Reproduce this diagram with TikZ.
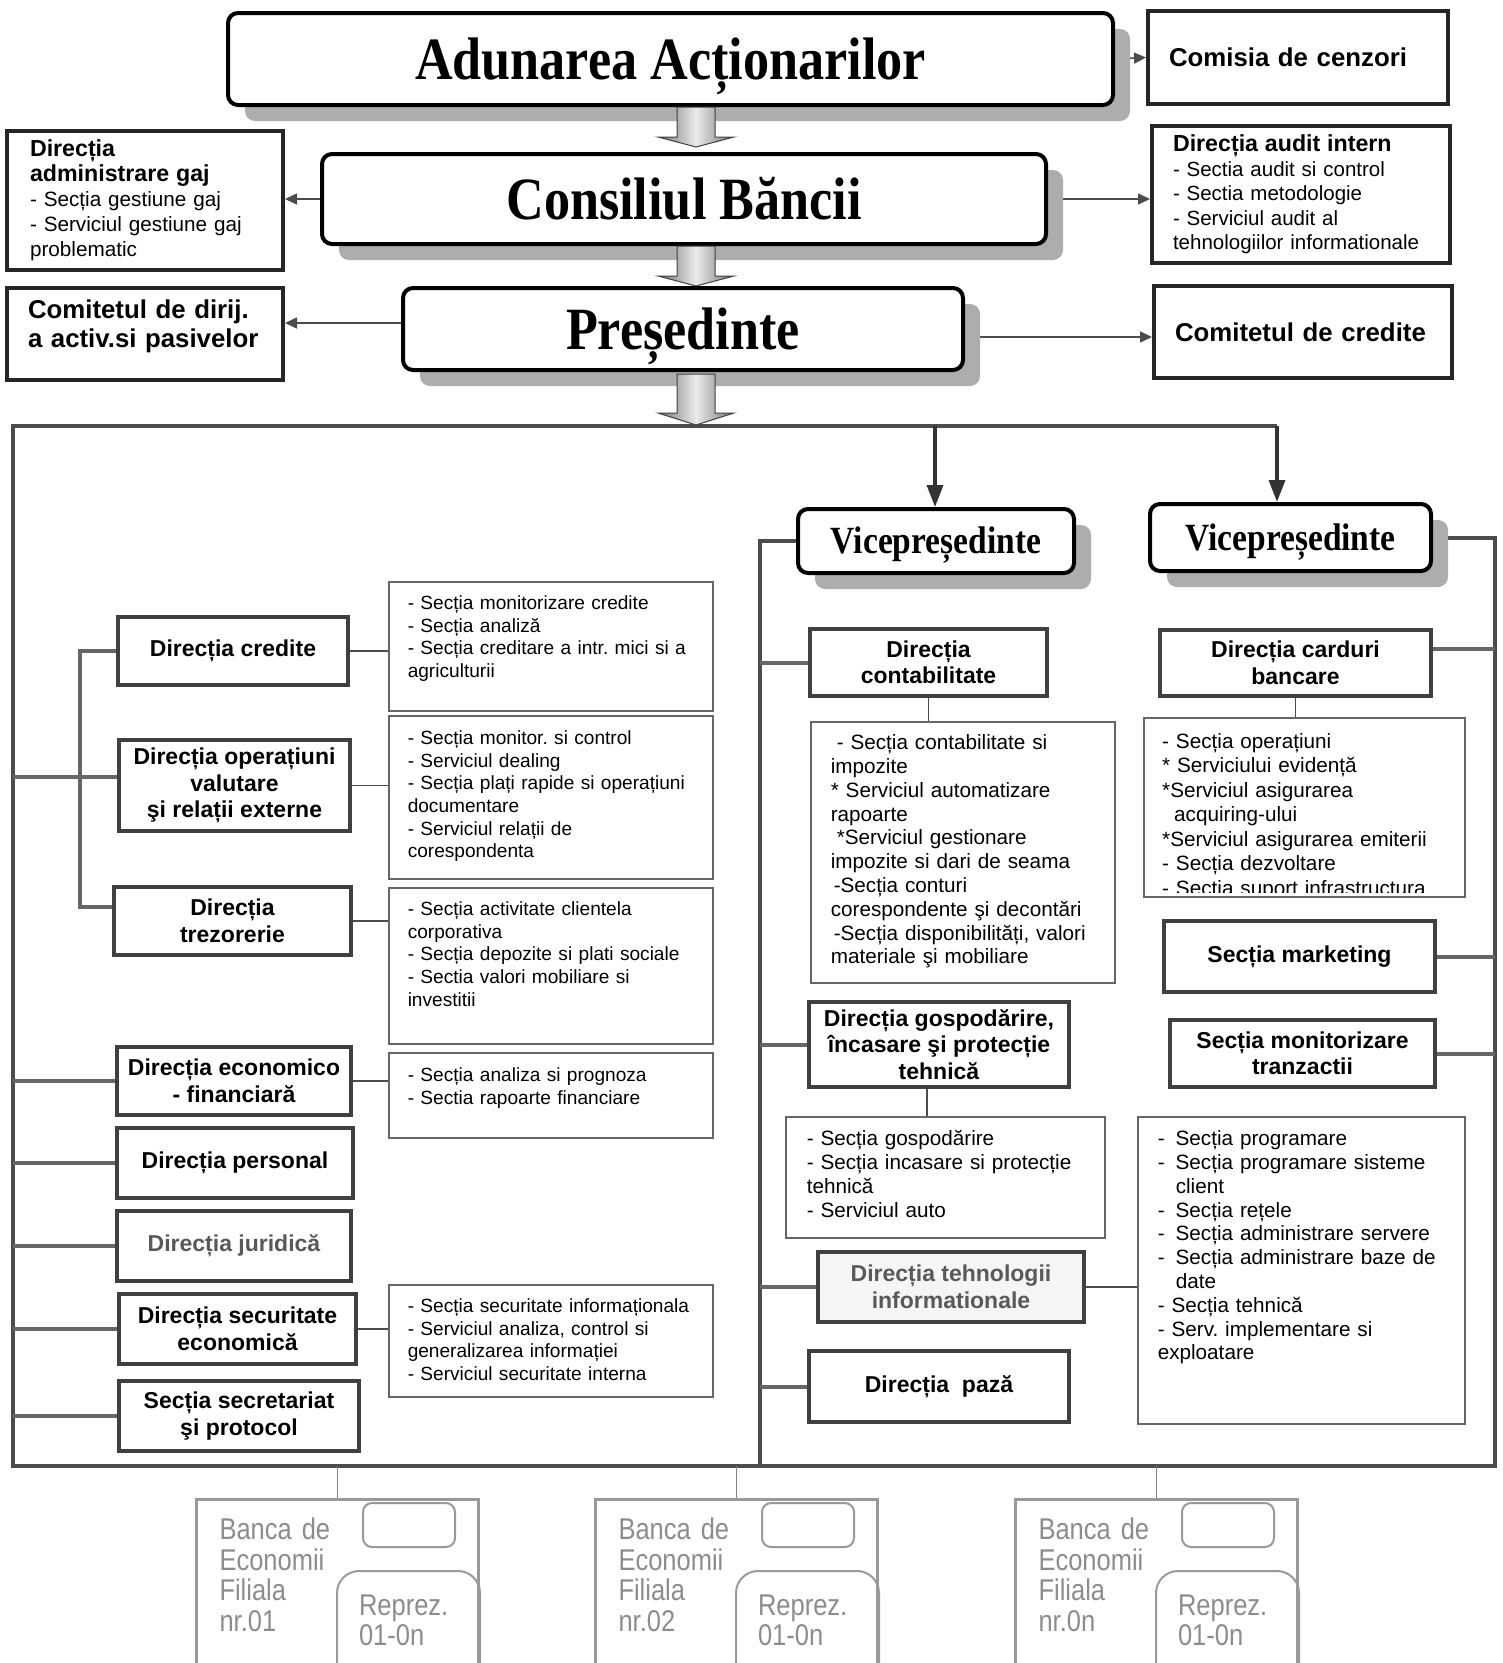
\documentclass[tikz,border=0pt]{standalone}
\usepackage{fontspec}
\setmainfont{Liberation Sans}
\newfontfamily\titlefont{Liberation Serif}[FakeStretch=0.87]
\newfontfamily\narrowfont{Liberation Sans}[FakeStretch=0.85]
\usetikzlibrary{arrows.meta,shadows,backgrounds}
\frenchspacing

\begin{document}
\begin{tikzpicture}[x=1pt,y=-1pt,
	titlebox/.style={rectangle,rounded corners=10pt,draw=black,line width=4pt,fill=white,text height=40pt,text depth=0pt,font=\titlefont\bfseries\fontsize{60}{64}\selectfont,drop shadow={shadow xshift=17pt,shadow yshift=-16pt,fill=black!32,opacity=1}},
	vpbox/.style={titlebox,text height=25pt,font=\titlefont\bfseries\fontsize{38.5}{42}\selectfont},
	sidebox/.style={rectangle,draw=black!85,line width=4pt,fill=white,align=left,inner xsep=21pt,inner ysep=0pt},
	headfont/.style={font=\bfseries\fontsize{25.8}{29.5}\selectfont},
	deptbox/.style={rectangle,draw=black!75,line width=4.5pt,fill=white,align=center,inner sep=0pt,font=\bfseries\fontsize{23}{26.5}\selectfont},
	subbox/.style={rectangle,draw=black!60,line width=1.5pt,fill=white,align=left,anchor=north west,inner ysep=0pt,font=\fontsize{20.7}{23.8}\selectfont},
	subboxl/.style={subbox,inner xsep=19pt,text width=286pt,font=\fontsize{19.1}{22.6}\selectfont},
	blockarr/.style={draw=black!75,line width=1pt,left color=black!55,right color=black!55,middle color=black!8},
	filbox/.style={rectangle,draw=black!40,line width=3pt,anchor=north west,align=left,inner xsep=23pt,inner ysep=0pt,text width=236pt,text height=40pt,text depth=180pt,text=black!45,font=\narrowfont\fontsize{30}{30.5}\selectfont},
	repbox/.style={rectangle,rounded corners=22pt,draw=black!40,line width=2pt,anchor=north west,align=left,inner xsep=22pt,inner ysep=0pt,text width=99pt,text height=44pt,text depth=96pt,text=black!45,font=\narrowfont\fontsize{30}{30.5}\selectfont},
	smallbox/.style={rectangle,rounded corners=9pt,draw=black!40,line width=2pt,anchor=north west,minimum width=92pt,minimum height=44pt},
	frame/.style={draw=black!70,line width=4pt},
	tie/.style={draw=black!60,line width=4pt},
	link/.style={draw=black!70,line width=1.6pt},
	arr/.style={link,-{Triangle[length=12pt,width=11pt]}},
	vparr/.style={draw=black!80,line width=3.5pt,-{Triangle[length=22pt,width=16pt]}}]
	\useasboundingbox (0,0) rectangle (1503,1663);

	\node[titlebox,minimum width=885pt,minimum height=92pt] (adunarea) at (670.5,59) {Adunarea Acționarilor};
	\node[sidebox,headfont,minimum width=300pt,minimum height=93pt,text width=258pt,text depth=0pt] (comisia) at (1298,57.5) {Comisia de cenzori};
	\node[titlebox,minimum width=724pt,minimum height=90pt] (consiliul) at (684,199) {Consiliul Băncii};
	\node[sidebox,minimum width=276pt,minimum height=139pt,text width=230pt,font=\fontsize{20.7}{25}\selectfont] (gaj) at (145,200.5) {\bfseries\fontsize{23.2}{25}\selectfont Direcția\\administrare gaj\\\mdseries\fontsize{20.7}{25}\selectfont - Secția gestiune gaj\\- Serviciul gestiune gaj\\problematic};
	\node[sidebox,minimum width=298pt,minimum height=137pt,text width=256pt,font=\fontsize{20.5}{24.5}\selectfont] (audit) at (1301,194.5) {\bfseries\fontsize{23.2}{24.5}\selectfont Direcția audit intern\\\mdseries\fontsize{20.5}{24.5}\selectfont - Sectia audit si control\\- Sectia metodologie\\- Serviciul audit al\\tehnologiilor informationale};
	\node[titlebox,minimum width=560pt,minimum height=82pt] (presedinte) at (683,329) {Președinte};
	\node[sidebox,headfont,anchor=north west,text width=234pt,text height=30pt,text depth=62pt] (dirij) at (5,286) {Comitetul de dirij.\\a activ.si pasivelor};
	\node[sidebox,headfont,minimum width=298pt,minimum height=92pt,text width=256pt,text depth=0pt] (credcom) at (1303,332) {Comitetul de credite};

	\foreach \ya/\yb/\yc in {107/137/147,246/276/286,374/413/425}
		\path[blockarr] (677,\ya) -- (715,\ya) -- (715,\yb) -- (734,\yb) -- (696,\yc) -- (658,\yb) -- (677,\yb) -- cycle;

	\node[vpbox,minimum width=276pt,minimum height=64pt] (vp1) at (936,541) {Vicepreședinte};
	\node[vpbox,minimum width=281pt,minimum height=67pt] (vp2) at (1290.5,537.5) {Vicepreședinte};

	\coordinate (ftl) at (13,426);
	\coordinate (fbl) at (13,1466);
	\coordinate (fbr) at (1495,1466);
	\coordinate (t1) at (935,426);
	\coordinate (t2) at (1277,426);
	\coordinate (vl) at (760,1466);
	\coordinate (brx) at (80,651);

	\node[deptbox,minimum width=230pt,minimum height=68pt] (credite) at (233,651) {Direcția credite};
	\node[deptbox,minimum width=231pt,minimum height=91pt] (valutare) at (234.5,785.5) {Direcția operațiuni\\valutare\\şi relații externe};
	\node[deptbox,minimum width=237pt,minimum height=68pt] (trezorerie) at (232.5,921) {Direcția\\trezorerie};
	\node[deptbox,minimum width=234pt,minimum height=68pt] (economico) at (234,1081) {Direcția economico\\- financiară};
	\node[deptbox,minimum width=236pt,minimum height=70pt] (personal) at (235,1163) {Direcția personal};
	\node[deptbox,minimum width=234pt,minimum height=70pt,text=black!65] (juridica) at (234,1246) {Direcția juridică};
	\node[deptbox,minimum width=237pt,minimum height=70pt] (securitate) at (237.5,1329) {Direcția securitate\\economică};
	\node[deptbox,minimum width=240pt,minimum height=70pt] (secretariat) at (239,1416) {Secția secretariat\\şi protocol};

	\node[subboxl,text height=28pt,text depth=101pt] (credsub) at (388,581) {- Secția monitorizare credite\\- Secția analiză\\- Secția creditare a intr. mici si a\\agriculturii};
	\node[subboxl,text height=29pt,text depth=134pt] (valsub) at (388,715) {- Secția monitor. si control\\- Serviciul dealing\\- Secția plați rapide si operațiuni\\documentare\\- Serviciul relații de\\corespondenta};
	\node[subboxl,text height=28pt,text depth=128pt] (trezsub) at (388,887) {- Secția activitate clientela\\corporativa\\- Secția depozite si plati sociale\\- Sectia valori mobiliare si\\investitii};
	\node[subboxl,text height=29pt,text depth=56pt] (econsub) at (388,1052) {- Secția analiza si prognoza\\- Sectia rapoarte financiare};
	\node[subboxl,text height=28pt,text depth=84pt] (secsub) at (388,1284) {- Secția securitate informaționala\\- Serviciul analiza, control si\\generalizarea informației\\- Serviciul securitate interna};

	\node[deptbox,minimum width=237pt,minimum height=67pt] (contab) at (928.5,662.5) {Direcția\\contabilitate};
	\node[subbox,inner xsep=20pt,text width=264pt,text height=28pt,text depth=233pt] (contabsub) at (810,721) {\hspace*{6pt}- Secția contabilitate si\\impozite\\{}* Serviciul automatizare\\rapoarte\\\hspace*{6pt}*Serviciul gestionare\\impozite si dari de seama\\\hspace*{3pt}-Secția conturi\\corespondente şi decontări\\\hspace*{3pt}-Secția disponibilități, valori\\materiale şi mobiliare};
	\node[deptbox,minimum width=260pt,minimum height=85pt] (gosp) at (939,1044.5) {Direcția gospodărire,\\încasare şi protecție\\tehnică};
	\node[subbox,inner xsep=21pt,text width=277pt,text height=29pt,text depth=92pt] (gospsub) at (785,1116) {- Secția gospodărire\\- Secția incasare si protecție\\tehnică\\- Serviciul auto};
	\node[deptbox,minimum width=266pt,minimum height=70pt,fill=black!4,text=black!65] (ittech) at (951,1287) {Direcția tehnologii\\informationale};
	\node[deptbox,minimum width=260pt,minimum height=71pt] (paza) at (939,1386.5) {Direcția~~pază};

	\node[deptbox,minimum width=271pt,minimum height=66pt] (carduri) at (1295.5,663) {Direcția carduri\\bancare};
	\node[subbox,minimum width=321pt,minimum height=179pt] (cardsub) at (1143,717) {};
	\begin{scope}
		\clip (cardsub.north west) rectangle ([yshift=5pt]cardsub.south east);
		\node[anchor=base west,align=left,text width=290pt,inner sep=0pt,font=\fontsize{20.7}{24.5}\selectfont] (cardtxt) at (1162,748) {- Secția operațiuni\\{}* Serviciului evidență\\{}*Serviciul asigurarea\\\hspace*{12pt}acquiring-ului\\{}*Serviciul asigurarea emiterii\\- Secția dezvoltare\\- Secția suport infrastructura};
	\end{scope}
	\node[deptbox,minimum width=271pt,minimum height=71pt] (marketing) at (1299.5,956.5) {Secția marketing};
	\node[deptbox,minimum width=265pt,minimum height=67pt] (monit) at (1302.5,1053.5) {Secția monitorizare\\tranzactii};
	\node[subbox,inner xsep=20pt,text width=287pt,text height=29pt,text depth=278pt] (itsub) at (1137,1116) {-\hspace{11pt}Secția programare\\-\hspace{11pt}Secția programare sisteme\\\hspace*{18pt}client\\-\hspace{11pt}Secția rețele\\-\hspace{11pt}Secția administrare servere\\-\hspace{11pt}Secția administrare baze de\\\hspace*{18pt}date\\- Secția tehnică\\- Serv. implementare si\\exploatare};

	\foreach \x/\nr/\n in {195/01/1,594/02/2,1014/0n/3}{
		\node[filbox] (fil\n) at (\x,1498) {Banca de\\Economii\\Filiala\\nr.\nr};
		\node[smallbox] (fsq\n) at (\x+167,1502) {};
		\node[repbox] (rep\n) at (\x+141,1570) {Reprez.\\01-0n};
		\draw[link,draw=black!50] (fil\n.north |- fbl) -- (fil\n.north);
	}

	\begin{scope}[on background layer]
		\draw[frame] (t2) -- (ftl) -- (fbl) -- (fbr) |- (vp2.east);
		\draw[frame] (vp1.west) -| (vl);
		\draw[vparr] (t1) -- (t1 |- vp1.north);
		\draw[vparr] (t2) -- (t2 |- vp2.north);
		\draw[arr] (adunarea.east) -- (comisia.west);
		\draw[arr] (consiliul.west) -- (consiliul.west -| gaj.east);
		\draw[arr] (consiliul.east) -- (consiliul.east -| audit.west);
		\draw[arr] ([yshift=6pt]presedinte.west) -- ([yshift=6pt]presedinte.west -| dirij.east);
		\draw[arr] ([yshift=-8pt]presedinte.east) -- ([yshift=-8pt]presedinte.east -| credcom.west);
		\draw[tie] ([yshift=9pt]valutare.west -| ftl) -- ([yshift=9pt]valutare.west);
		\draw[tie] (credite.west) -| (brx) |- ([yshift=14pt]trezorerie.west);
		\foreach \d in {economico,personal,juridica,securitate,secretariat}
			\draw[tie] (ftl |- \d.west) -- (\d.west);
		\foreach \d in {contab,gosp,ittech,paza}
			\draw[tie] (vl |- \d.west) -- (\d.west);
		\draw[tie] ([yshift=14pt]carduri.east -| fbr) -- ([yshift=14pt]carduri.east);
		\foreach \d in {marketing,monit}
			\draw[tie] (fbr |- \d.east) -- (\d.east);
		\foreach \d/\s in {credite/credsub,valutare/valsub,trezorerie/trezsub,economico/econsub,securitate/secsub}
			\draw[link] (\d.east) -- (\d.east -| \s.west);
		\draw[link] (contab.south) -- (contab.south |- contabsub.north);
		\draw[link] ([xshift=-12pt]gosp.south) -- ([xshift=-12pt]gosp.south |- gospsub.north);
		\draw[link] (carduri.south) -- (carduri.south |- cardsub.north);
		\draw[link] (ittech.east) -- (ittech.east -| itsub.west);
	\end{scope}
\end{tikzpicture}
\end{document}
